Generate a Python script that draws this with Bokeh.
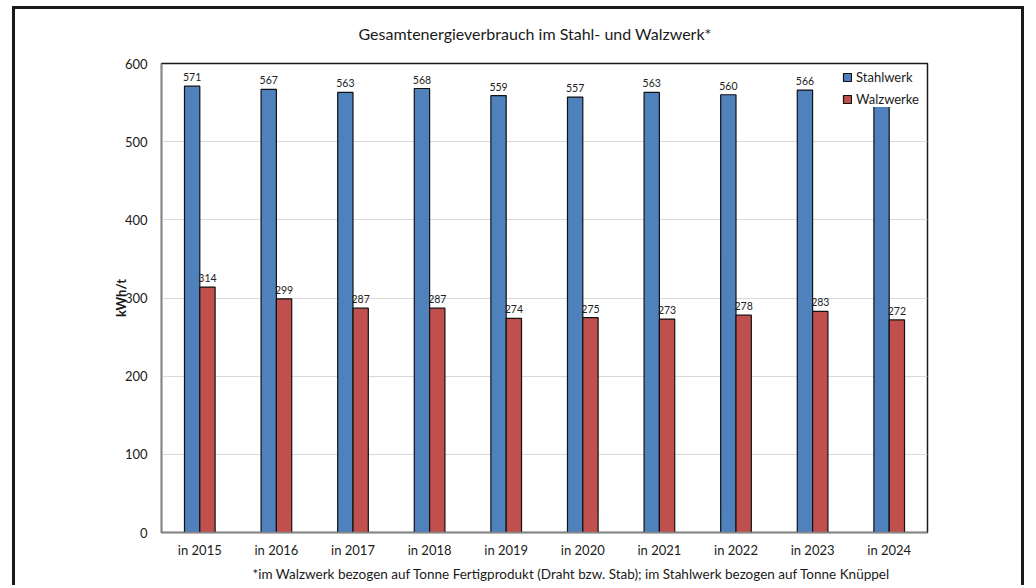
from bokeh.plotting import figure
from bokeh.models import ColumnDataSource, Legend, LegendItem, FactorRange, Title
from bokeh.transform import dodge
from bokeh.core.properties import value
from bokeh.embed import file_html
from bokeh.resources import INLINE

years = ["in 2015", "in 2016", "in 2017", "in 2018", "in 2019",
         "in 2020", "in 2021", "in 2022", "in 2023", "in 2024"]
stahlwerk = [571, 567, 563, 568, 559, 557, 563, 560, 566, 556]
walzwerke = [314, 299, 287, 287, 274, 275, 273, 278, 283, 272]
y_ticks = [0, 100, 200, 300, 400, 500, 600]
title_text = "Gesamtenergieverbrauch im Stahl- und Walzwerk*"
note_text = ("*im Walzwerk bezogen auf Tonne Fertigprodukt (Draht bzw. Stab); "
             "im Stahlwerk bezogen auf Tonne Knüppel")

FONT = "Lato"
BLUE = "#4F81BD"
RED = "#C0504D"
INK = "#1a1a1a"

src = ColumnDataSource(dict(
    x=years, s=stahlwerk, w=walzwerke,
    sl=[str(v) for v in stahlwerk], wl=[str(v) for v in walzwerke],
))

p = figure(width=1012, height=579, x_range=FactorRange(*years), y_range=(0, 600),
           output_backend="svg", toolbar_location=None,
           min_border_left=146, min_border_right=100, min_border_top=54, min_border_bottom=56)
p.styles = {"border-top": "3px solid #1a1a1a", "border-left": "3px solid #1a1a1a",
            "border-right": "3px solid #1a1a1a",
            "margin-left": "12px", "margin-top": "6px"}

p.title.visible = False
# spacer (closest to frame) then the title
p.add_layout(Title(text=" ", text_font_size="1px", standoff=8), "above")
p.add_layout(Title(text=title_text, align="left", offset=197, standoff=19,
                   vertical_align="bottom", text_font=FONT, text_font_size="16px",
                   text_font_style="normal", text_color=INK), "above")
p.add_layout(Title(text=note_text, align="left", offset=91, standoff=10,
                   vertical_align="top", text_font=FONT, text_font_size="13.5px",
                   text_font_style="normal", text_color=INK), "below")

b1 = p.vbar(x=dodge("x", -0.1, range=p.x_range), top="s", width=0.2, source=src,
            fill_color=BLUE, line_color="#111111", line_width=1.2)
b2 = p.vbar(x=dodge("x", 0.1, range=p.x_range), top="w", width=0.2, source=src,
            fill_color=RED, line_color="#111111", line_width=1.2)

p.text(x=dodge("x", -0.1, range=p.x_range), y="s", text="sl", source=src,
       text_font=value(FONT), text_font_size="10.5px", text_align="center",
       text_baseline="bottom", y_offset=-5, text_color="#222222")
p.text(x=dodge("x", 0.1, range=p.x_range), y="w", text="wl", source=src,
       text_font=value(FONT), text_font_size="10.5px", text_align="center",
       text_baseline="bottom", y_offset=-5, text_color="#222222")

legend = Legend(items=[LegendItem(label="Stahlwerk", renderers=[b1]),
                       LegendItem(label="Walzwerke", renderers=[b2])],
                location="top_right", border_line_color=None,
                background_fill_color="white", background_fill_alpha=1,
                label_text_font=FONT, label_text_font_size="13px",
                label_text_color=INK, glyph_width=10, glyph_height=10,
                label_width=65, label_height=16, label_standoff=4,
                spacing=6, padding=5, margin=6)
p.add_layout(legend)

p.xgrid.grid_line_color = None
p.ygrid.grid_line_color = "#D9D9D9"
p.ygrid.grid_line_width = 1
p.yaxis.ticker = y_ticks

p.outline_line_color = INK
p.outline_line_width = 1.5

for ax in (p.xaxis, p.yaxis):
    ax.axis_line_color = "#888888"
    ax.axis_line_width = 1.5
    ax.major_tick_line_color = None
    ax.minor_tick_line_color = None
    ax.major_tick_out = 0
    ax.major_tick_in = 0
    ax.minor_tick_out = 0
    ax.major_label_text_font = FONT
    ax.major_label_text_font_size = "13px"
    ax.major_label_text_color = INK

p.xaxis.major_label_standoff = 9
p.yaxis.major_label_standoff = 14
p.yaxis.axis_label = "kWh/t"
p.yaxis.axis_label_text_font = FONT
p.yaxis.axis_label_text_font_size = "13px"
p.yaxis.axis_label_text_font_style = "bold"
p.yaxis.axis_label_text_color = INK
p.yaxis.axis_label_standoff = -7

open("out.html", "w").write(file_html(p, INLINE))
